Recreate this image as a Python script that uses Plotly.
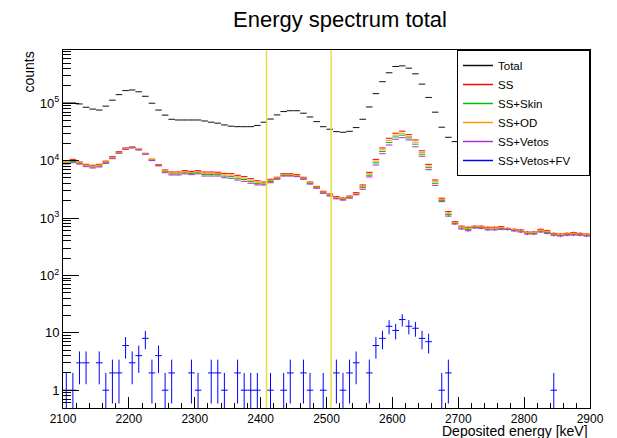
import numpy as np
import plotly.graph_objects as go

# ---------------- data ----------------
bin_edges = list(range(2100, 2901, 10))          # 80 bins of 10 keV

total = [101000, 101000, 97000, 85000, 79000, 76000, 89000, 113000, 141000, 166000,
         170000, 158000, 132000, 100000, 76000, 62000, 52500, 51000, 51000, 51000,
         51000, 49000, 46700, 44900, 41800, 39800, 39000, 39000, 39000, 41000,
         46700, 53000, 62500, 71500, 74000, 74000, 67000, 57600, 47800, 39000,
         35200, 32000, 31200, 32400, 37600, 52500, 86000, 147000, 237000, 339000,
         436000, 447000, 408000, 325000, 215000, 126000, 69800, 38200, 25500, 21400,
         19000, 17500, 16500, 16000, 15600, 15300, 15000, 14800, 14600, 14400,
         14200, 14000, 13900, 13800, 13700, 13600, 13500, 13400, 13300, 13200]

ss = [10000, 10500, 9460, 8630, 8300, 8630, 9800, 11700, 14300, 16600,
      17300, 15900, 13400, 10600, 8500, 6870, 6330, 6330, 6680, 6500,
      6680, 6330, 6330, 6270, 6000, 5930, 5550, 5260, 4840, 4450,
      4230, 4730, 5130, 5900, 5900, 5690, 5130, 4230, 3560, 2920,
      2630, 2350, 2230, 2410, 2760, 3760, 6250, 10500, 16600, 24500,
      30000, 32600, 28300, 22900, 14800, 8600, 4600, 2210, 1290, 860,
      720, 690, 720, 720, 690, 690, 705, 660, 635, 620,
      570, 570, 635, 600, 540, 525, 540, 555, 540, 525]

ss_od = [9550, 10050, 9190, 8350, 8000, 8320, 9500, 11390, 13990, 16290,
         17060, 15690, 13230, 10390, 8360, 6620, 6080, 6080, 6400, 6220,
         6400, 6000, 6000, 5960, 5660, 5580, 5210, 4950, 4560, 4220,
         4070, 4520, 4990, 5720, 5720, 5540, 4990, 4110, 3470, 2840,
         2560, 2280, 2170, 2340, 2680, 3550, 5880, 9770, 15410, 22470,
         27760, 29980, 26410, 20980, 13790, 8020, 4290, 2110, 1220, 835,
         695, 660, 700, 700, 665, 665, 680, 650, 620, 600,
         555, 555, 610, 580, 525, 510, 525, 535, 525, 510]

ss_skin = [9150, 9650, 8970, 8120, 7740, 8060, 9250, 11120, 13720, 16020,
           16850, 15510, 13080, 10210, 8240, 6410, 5870, 5870, 6150, 5970,
           6150, 5720, 5720, 5700, 5370, 5270, 4930, 4680, 4310, 4010,
           3920, 4330, 4870, 5560, 5560, 5400, 4870, 4020, 3390, 2770,
           2490, 2230, 2110, 2290, 2620, 3380, 5570, 9140, 14390, 20730,
           25840, 27730, 24790, 19330, 12920, 7530, 4020, 2030, 1150, 810,
           670, 630, 690, 680, 645, 645, 660, 640, 610, 590,
           540, 540, 590, 560, 515, 500, 515, 520, 515, 500]

ss_vetos = [8700, 9200, 8700, 7840, 7440, 7750, 8950, 10800, 13400, 15700,
            16600, 15300, 12900, 10000, 8100, 6160, 5620, 5620, 5870, 5690,
            5870, 5390, 5390, 5390, 5030, 4920, 4590, 4360, 4030, 3780,
            3760, 4120, 4730, 5380, 5380, 5250, 4730, 3900, 3300, 2690,
            2420, 2160, 2050, 2220, 2540, 3170, 5200, 8400, 13200, 18700,
            23600, 25100, 22900, 17400, 11900, 6950, 3700, 1930, 1080, 785,
            645, 600, 670, 660, 620, 620, 635, 630, 595, 570,
            525, 525, 570, 540, 500, 485, 500, 505, 500, 485]

ss_vetos_fv = [1, 1, 3, 3, 0, 3, 1, 2, 2, 6,
               3, 4, 8, 2, 4, 1, 2, 0, 0, 2,
               1, 0, 2, 2, 1, 0, 2, 1, 1, 1,
               0, 1, 0, 1, 2, 0, 2, 1, 0, 1,
               0, 2, 1, 2, 3, 0, 2, 6, 8, 13,
               11, 17, 13, 12, 8, 7, 0, 1, 2, 0,
               0, 0, 0, 0, 0, 0, 0, 0, 0, 0,
               0, 0, 0, 0, 1, 0, 0, 0, 0, 0]

series_names = ["Total", "SS", "SS+Skin", "SS+OD", "SS+Vetos", "SS+Vetos+FV"]
roi_edges = [2409, 2507]

x_tick_vals = list(range(2100, 2901, 100))
y_tick_vals = [1, 10, 100, 1000, 10000, 100000]
y_tick_text = ["1", "10", "10<sup>2</sup>", "10<sup>3</sup>", "10<sup>4</sup>", "10<sup>5</sup>"]

# ---------------- styling ----------------
colors = ["#111111", "#ff0000", "#00c000", "#ff9900", "#b030d0", "#0000ff"]
FONT = "Liberation Sans, Arial, Helvetica, sans-serif"

edges = np.array(bin_edges, dtype=float)
centers = 0.5 * (edges[:-1] + edges[1:])
halfw = 0.5 * np.diff(edges)

series = [total, ss, ss_skin, ss_od, ss_vetos, ss_vetos_fv]

fig = go.Figure()
for name, vals, col in zip(series_names, series, colors):
    y = np.array(vals, dtype=float)
    err = np.sqrt(np.clip(y, 0, None))
    y[y <= 0] = np.nan
    fig.add_trace(go.Scatter(
        x=centers, y=y, mode="markers",
        marker=dict(size=2, color=col, opacity=0),
        error_x=dict(type="data", array=halfw, symmetric=True, width=0, thickness=1, color=col),
        error_y=dict(type="data", array=err, symmetric=True, width=0, thickness=1, color=col),
        showlegend=False, hoverinfo="skip", name=name))

# legend entries (line samples, as in the ROOT legend)
pad = "\u00a0" * 4
for i, (name, col) in enumerate(zip(series_names, colors)):
    label = name + (pad if name == "SS+Vetos+FV" else "")
    fig.add_trace(go.Scatter(x=[None], y=[None], mode="lines",
                             line=dict(color=col, width=1.5), name=label, showlegend=True))

for xv in roi_edges:
    fig.add_shape(type="line", xref="x", yref="paper", x0=xv, x1=xv, y0=0, y1=1,
                  line=dict(color="#e6dd45", width=1.5), layer="above")

# minor log ticks
minor_y = [m * 10.0 ** k for k in range(-1, 6) for m in range(2, 10)]

fig.update_layout(
    width=617, height=438,
    margin=dict(l=63, r=27, t=50, b=30),
    paper_bgcolor="white", plot_bgcolor="white",
    font=dict(family=FONT, size=13, color="black"),
    title=dict(text="Energy spectrum total", x=340 / 617, xanchor="center",
               y=1 - 19.4 / 438, yanchor="middle", yref="container",
               font=dict(size=22, family=FONT, color="black")),
    showlegend=True,
    legend=dict(x=1, y=1, xanchor="right", yanchor="top",
                bgcolor="white", bordercolor="black", borderwidth=1,
                font=dict(size=11.5, family=FONT, color="black"),
                tracegroupgap=0, itemwidth=30),
    xaxis=dict(range=[2100, 2900], showgrid=False, zeroline=False,
               showline=True, mirror=True, linecolor="black", linewidth=1,
               tickmode="array", tickvals=x_tick_vals, ticks="inside",
               ticklen=11, tickcolor="black", tickfont=dict(size=12),
               minor=dict(dtick=20, ticks="inside", ticklen=5.5, tickcolor="black",
                          showgrid=False)),
    yaxis=dict(type="log", range=[-0.31, 5.927], showgrid=False, zeroline=False,
               showline=True, mirror=True, linecolor="black", linewidth=1,
               tickmode="array", tickvals=y_tick_vals, ticktext=y_tick_text,
               ticks="inside", ticklen=16, tickcolor="black", tickfont=dict(size=13),
               minor=dict(tickmode="array", tickvals=minor_y, ticks="inside",
                          ticklen=8, tickcolor="black", showgrid=False)),
    annotations=[
        dict(text="counts", xref="paper", yref="paper", x=(28 - 63) / 527, y=1,
             xanchor="center", yanchor="top", textangle=-90, showarrow=False,
             font=dict(size=14, family=FONT, color="black")),
        dict(text="Deposited energy [keV]", xref="paper", yref="paper", x=1,
             y=-(430.5 - 407.6) / 357.6, xanchor="right", yanchor="middle",
             showarrow=False, font=dict(size=14, family=FONT, color="black")),
    ],
)

fig.write_html("out.html")
